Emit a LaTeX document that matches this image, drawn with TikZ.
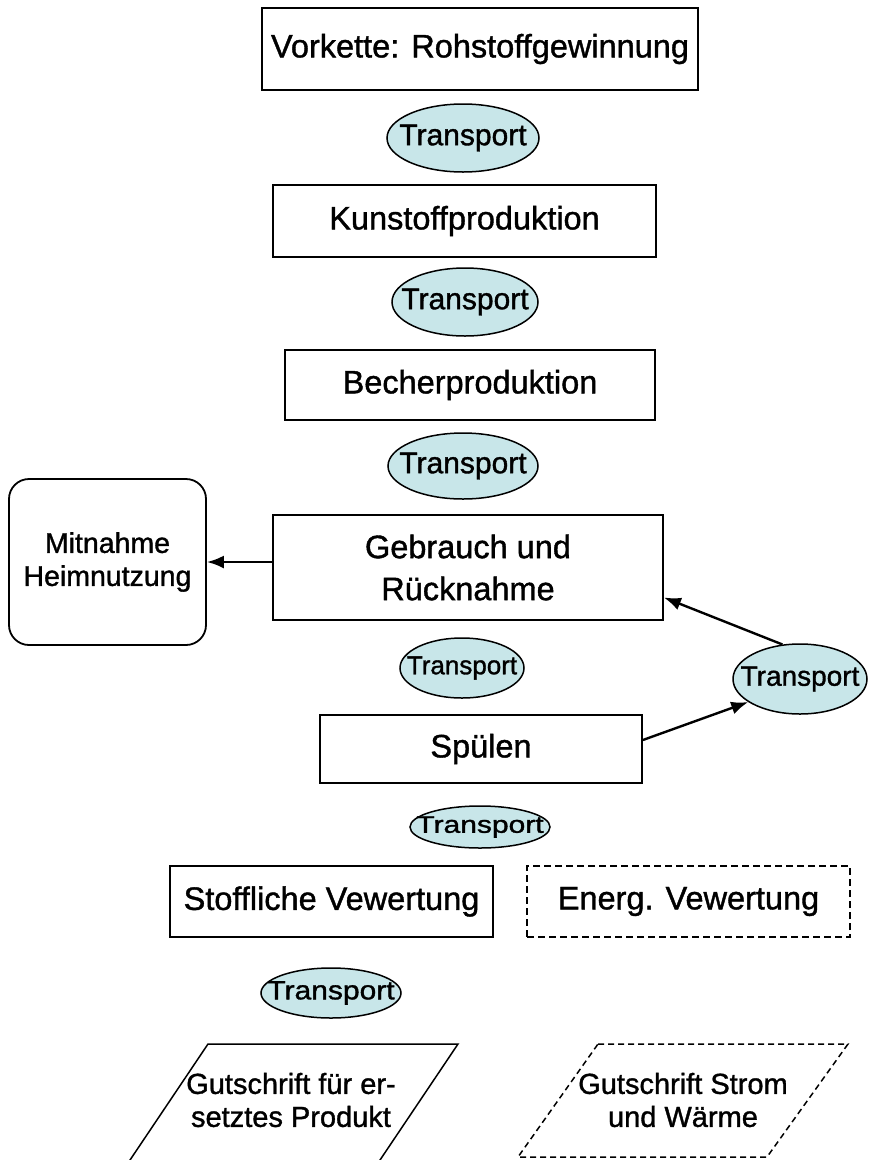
\documentclass[tikz,border=0pt]{standalone}
\usepackage{fontspec}
\setmainfont{Liberation Sans}
\newfontfamily\heavyfont[RawFeature={embolden=1.2}]{Liberation Sans}
\usetikzlibrary{shapes.geometric,arrows.meta}
\definecolor{ellfill}{RGB}{200,230,233}
\begin{document}
\begin{tikzpicture}[x=1pt,y=-1pt,
  box/.style={draw,line width=1.8pt,inner sep=0pt,align=center,font=\heavyfont\fontsize{32.5}{42}\selectfont},
  dbox/.style={box,dash pattern=on 7pt off 4pt},
  rbox/.style={box,rounded corners=20pt,font=\heavyfont\fontsize{28.5}{33}\selectfont},
  trans/.style={draw,ellipse,fill=ellfill,line width=1.5pt,inner sep=0pt,font=\heavyfont\fontsize{30}{30}\selectfont},
  paratext/.style={inner sep=0pt,align=center,font=\heavyfont\fontsize{29}{33}\selectfont},
  para/.style={line width=1.5pt,line join=miter},
  arr/.style={line width=2.4pt,-{Latex[length=17pt,width=13pt]}}
]
\useasboundingbox (0,0) rectangle (869,1160);
\clip (0,0) rectangle (869,1160);

% process boxes
\node[box,minimum width=436pt,minimum height=82pt] (b1) at (480,49) {Vorkette: Rohstoffgewinnung};
\node[box,minimum width=383pt,minimum height=72pt] (b2) at (464.5,221) {Kunstoffproduktion};
\node[box,minimum width=370pt,minimum height=70pt] (b3) at (470,385) {Becherproduktion};
\node[box,minimum width=390pt,minimum height=105pt] (gb) at (468,567.5) {Gebrauch und\\Rücknahme};
\node[rbox,minimum width=197pt,minimum height=166pt] (mh) at (107.5,562) {Mitnahme\\Heimnutzung};
\node[box,minimum width=322pt,minimum height=68pt] (sp) at (481,749) {Spülen};
\node[box,minimum width=323pt,minimum height=71pt] (sv) at (331.5,901.5) {Stoffliche Vewertung};
\node[dbox,minimum width=323pt,minimum height=71pt] (ev) at (688.5,901.5) {Energ. Vewertung};

% transport ellipses
\node[trans,minimum width=152pt,minimum height=68pt] (t1) at (463,138) {\makebox[0pt]{Transport}};
\node[trans,minimum width=146pt,minimum height=68pt] (t2) at (465,302) {\makebox[0pt]{Transport}};
\node[trans,minimum width=150pt,minimum height=66pt] (t3) at (463,466) {\makebox[0pt]{Transport}};
\node[trans,minimum width=124pt,minimum height=60pt,font=\heavyfont\fontsize{26}{26}\selectfont] (t4) at (462,668) {\makebox[0pt]{Transport}};
\node[trans,minimum width=134pt,minimum height=70pt,font=\heavyfont\fontsize{28}{28}\selectfont] (tr) at (800,679) {\makebox[0pt]{Transport}};
\node[trans,minimum width=140pt,minimum height=42pt] (t5) at (480,827) {\makebox[0pt]{\scalebox{1}[0.8]{Transport}}};
\node[trans,minimum width=140pt,minimum height=50pt] (t6) at (331,993) {\makebox[0pt]{\scalebox{1}[0.88]{Transport}}};

% credit parallelograms
\draw[para] (128,1163) -- (208,1044) -- (458,1044) -- (378,1163);
\draw[para,dash pattern=on 6pt off 4pt] (598,1044) -- (848,1044) -- (767,1157) -- (518,1157) -- cycle;
\node[paratext] (g1) at (291,1100) {Gutschrift für er-\\setztes Produkt};
\node[paratext] (g2) at (683,1100) {Gutschrift Strom\\und Wärme};

% connectors
\draw[arr] (gb.west |- mh.east) -- (mh.east);
\draw[arr] ([yshift=9pt]sp.east) -- (tr.204);
\draw[arr] (tr.117) -- ([yshift=-30pt]gb.east);
\end{tikzpicture}
\end{document}
